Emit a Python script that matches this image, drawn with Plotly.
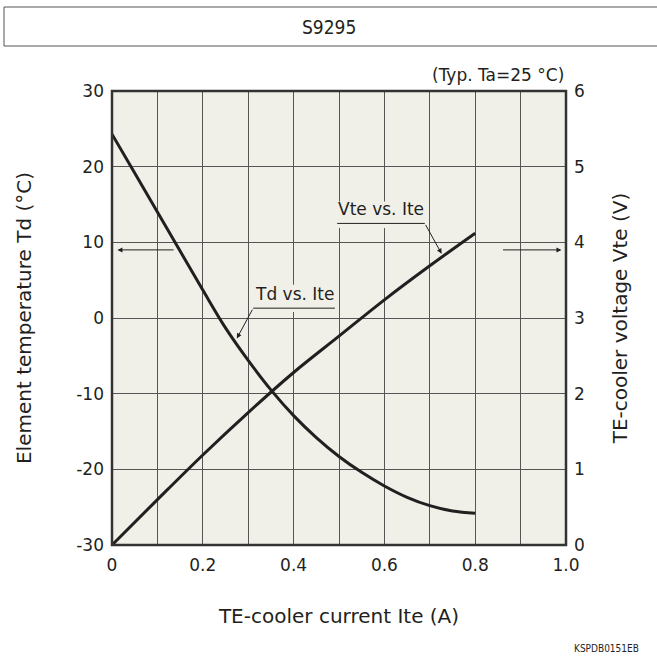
import plotly.graph_objects as go

# ---- data ----
ite_td = [0.0, 0.05, 0.10, 0.15, 0.20, 0.25, 0.30, 0.35, 0.40, 0.45, 0.50, 0.55, 0.60, 0.65, 0.70, 0.75, 0.80]
td = [24.3, 19.15, 14.0, 8.85, 3.7, -1.3, -5.6, -9.5, -12.9, -15.8, -18.3, -20.4, -22.2, -23.7, -24.8, -25.5, -25.8]

ite_vte = [0.0, 0.1, 0.2, 0.3, 0.4, 0.5, 0.6, 0.7, 0.8]
vte = [0.0, 0.60, 1.19, 1.75, 2.28, 2.76, 3.24, 3.69, 4.12]

x_tickvals = [0.0, 0.1, 0.2, 0.3, 0.4, 0.5, 0.6, 0.7, 0.8, 0.9, 1.0]
x_ticktext = ["0", "", "0.2", "", "0.4", "", "0.6", "", "0.8", "", "1.0"]
y_left_ticks = [-30, -20, -10, 0, 10, 20, 30]
y_left_text = ["-30", "-20", "-10", "0", "10", "20", "30"]
y_right_ticks = [0, 1, 2, 3, 4, 5, 6]

title_text = "S9295"
note_text = "(Typ. Ta=25 °C)"
code_text = "KSPDB0151EB"

# ---- style ----
FONT = "'DejaVu Sans', Verdana, sans-serif"
FONT_C = "'DejaVu Sans Condensed', Tahoma, 'DejaVu Sans', sans-serif"
BG = "#f1f0e8"
GRID = "#555555"
INK = "#231f20"
TXT = "#231f20"

fig = go.Figure()
fig.add_trace(go.Scatter(x=ite_td, y=td, mode="lines", line=dict(color=INK, width=3, shape="spline"),
                         yaxis="y", showlegend=False, hoverinfo="skip"))
fig.add_trace(go.Scatter(x=ite_vte, y=vte, mode="lines", line=dict(color=INK, width=3, shape="spline"),
                         yaxis="y2", showlegend=False, hoverinfo="skip"))

L, R, T, B = 112, 566, 91, 545
W, H = 657, 660
pw, ph = R - L, B - T

def px(xp):
    return (xp - L) / pw

def py(yp):
    return (B - yp) / ph

shapes = []
# title box
shapes.append(dict(type="rect", xref="paper", yref="paper", x0=px(4), x1=px(680), y0=py(46), y1=py(7),
                   line=dict(color="#555555", width=1), fillcolor="rgba(0,0,0,0)", layer="above"))
# label backgrounds hiding grid
shapes.append(dict(type="rect", xref="x", yref="y", x0=0.311, x1=0.491, y0=0.8, y1=4.4,
                   line=dict(width=0), fillcolor=BG, layer="between"))
shapes.append(dict(type="rect", xref="x", yref="y", x0=0.496, x1=0.689, y0=11.9, y1=15.4,
                   line=dict(width=0), fillcolor=BG, layer="between"))
# underlines
shapes.append(dict(type="line", xref="x", yref="y", x0=0.311, x1=0.491, y0=1.3, y1=1.3,
                   line=dict(color=INK, width=1), layer="above"))
shapes.append(dict(type="line", xref="x", yref="y", x0=0.496, x1=0.689, y0=12.5, y1=12.5,
                   line=dict(color=INK, width=1), layer="above"))
# frame
shapes.append(dict(type="rect", xref="paper", yref="paper", x0=0, x1=1, y0=0, y1=1,
                   line=dict(color="#333333", width=2.5), fillcolor="rgba(0,0,0,0)", layer="above"))

ann = []
ann.append(dict(text=title_text, xref="paper", yref="paper", x=px(329), y=py(27), showarrow=False,
                font=dict(size=19, color=TXT, family=FONT_C), xanchor="center", yanchor="middle"))
ann.append(dict(text=note_text, xref="paper", yref="paper", x=px(566), y=py(75), showarrow=False,
                font=dict(size=17, color=TXT, family=FONT), xanchor="right", yanchor="middle"))
ann.append(dict(text=code_text, xref="paper", yref="paper", x=px(641), y=py(648), showarrow=False,
                font=dict(size=10, color=TXT, family=FONT_C), xanchor="right", yanchor="middle"))
# curve labels
ann.append(dict(text="Td vs. Ite", xref="x", yref="y", x=0.401, y=1.6, showarrow=False,
                font=dict(size=17, color=TXT, family=FONT), xanchor="center", yanchor="bottom"))
ann.append(dict(text="Vte vs. Ite", xref="x", yref="y", x=0.592, y=12.8, showarrow=False,
                font=dict(size=17, color=TXT, family=FONT), xanchor="center", yanchor="bottom"))
# leader arrows
ann.append(dict(text="", xref="x", yref="y", axref="x", ayref="y", x=0.275, y=-2.7, ax=0.311, ay=1.3,
                showarrow=True, arrowhead=2, arrowsize=1, arrowwidth=1, arrowcolor=INK, standoff=0))
ann.append(dict(text="", xref="x", yref="y", axref="x", ayref="y", x=0.726, y=8.5, ax=0.689, ay=12.5,
                showarrow=True, arrowhead=2, arrowsize=1, arrowwidth=1, arrowcolor=INK, standoff=0))
# axis pointing arrows
ann.append(dict(text="", xref="x", yref="y", axref="x", ayref="y", x=0.012, y=9, ax=0.139, ay=9,
                showarrow=True, arrowhead=2, arrowsize=1, arrowwidth=1, arrowcolor=INK, standoff=0))
ann.append(dict(text="", xref="x", yref="y", axref="x", ayref="y", x=0.99, y=9, ax=0.858, ay=9,
                showarrow=True, arrowhead=2, arrowsize=1, arrowwidth=1, arrowcolor=INK, standoff=0))

tickfont = dict(size=17, color=TXT, family=FONT)
titlefont = dict(size=20, color=TXT, family=FONT)

fig.update_layout(
    width=W, height=H, autosize=False,
    margin=dict(l=L, r=W - R, t=T, b=H - B, pad=0),
    paper_bgcolor="white", plot_bgcolor=BG,
    shapes=shapes, annotations=ann,
    xaxis=dict(range=[0, 1.0], tickvals=x_tickvals, ticktext=x_ticktext, showgrid=True,
               gridcolor=GRID, gridwidth=1, zeroline=False, showline=False, ticks="",
               tickfont=tickfont, ticklabelstandoff=8,
               title=dict(text="TE-cooler current Ite (A)", font=titlefont, standoff=34)),
    yaxis=dict(range=[-30, 30], tickvals=y_left_ticks, ticktext=y_left_text, showgrid=True,
               gridcolor=GRID, gridwidth=1,
               zeroline=False, showline=False, ticks="", tickfont=tickfont, ticklabelstandoff=7,
               title=dict(text="Element temperature Td (°C)", font=titlefont, standoff=39)),
    yaxis2=dict(range=[0, 6], tickvals=y_right_ticks, overlaying="y", side="right", showgrid=False,
                zeroline=False, showline=False, ticks="", tickfont=tickfont, ticklabelstandoff=7,
                title=dict(text="TE-cooler voltage Vte (V)", font=titlefont, standoff=29)),
)

fig.write_html("out.html")
